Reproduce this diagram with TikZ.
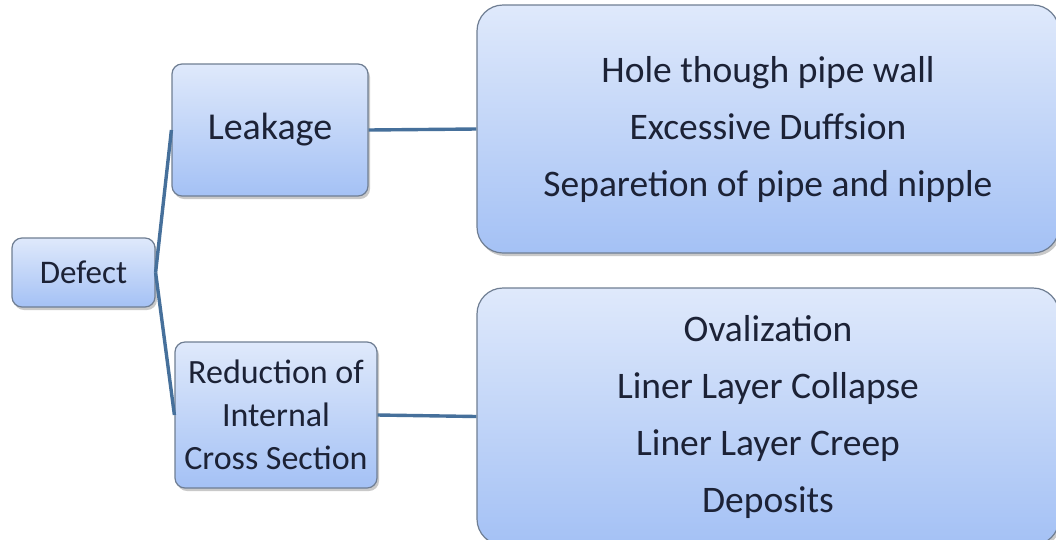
\documentclass[tikz,border=0pt]{standalone}
\usepackage{fontspec}
\setmainfont{Carlito}
\usetikzlibrary{shadows}
\definecolor{boxtop}{HTML}{DFE9FB}
\definecolor{boxbot}{HTML}{A4C1F5}
\definecolor{boxborder}{HTML}{6F7E93}
\definecolor{linkcol}{HTML}{46709B}
\definecolor{txtcol}{HTML}{1C2236}
\tikzset{
  boxstyle/.style={draw=boxborder, line width=1.2pt, top color=boxtop, bottom color=boxbot,
    text=txtcol, align=center, inner sep=0pt,
    drop shadow={shadow xshift=2pt, shadow yshift=-3pt, opacity=0.35, fill=black!60}},
  smallbox/.style={boxstyle, rounded corners=10pt, font=\fontsize{33}{43}\selectfont},
  bigbox/.style={boxstyle, rounded corners=26pt, font=\fontsize{37.5}{57}\selectfont},
  link/.style={draw=linkcol, line width=3.4pt}
}
\begin{document}
\begin{tikzpicture}[x=1pt,y=-1pt]
\useasboundingbox (0,0) rectangle (1056,539);
\fill[white] (0,0) rectangle (1056,539);
\begin{scope}
\clip (0,0) rectangle (1056,539);
\node[smallbox, minimum width=143pt, minimum height=69pt] (defect) at (83.5,272.5) {Defect};
\node[smallbox, minimum width=196pt, minimum height=132pt, font=\fontsize{38}{46}\selectfont] (leak) at (270,130) {Leakage};
\node[smallbox, minimum width=202pt, minimum height=146pt, font=\fontsize{34}{43}\selectfont] (red) at (276,415) {Reduction of\\Internal\\Cross Section};
\node[bigbox, minimum width=582pt, minimum height=248pt] (tr) at (768,129) {Hole though pipe wall\\Excessive Duffsion\\Separetion of pipe and nipple};
\node[bigbox, minimum width=582pt, minimum height=257pt] (br) at (768,416.5) {Ovalization\\Liner Layer Collapse\\Liner Layer Creep\\Deposits};
\draw[link] (defect.east) -- (leak.west);
\draw[link] (defect.east) -- (red.west);
\draw[link] (leak.east) -- (tr.west);
\draw[link] (red.east) -- (br.west);
\end{scope}
\end{tikzpicture}
\end{document}
